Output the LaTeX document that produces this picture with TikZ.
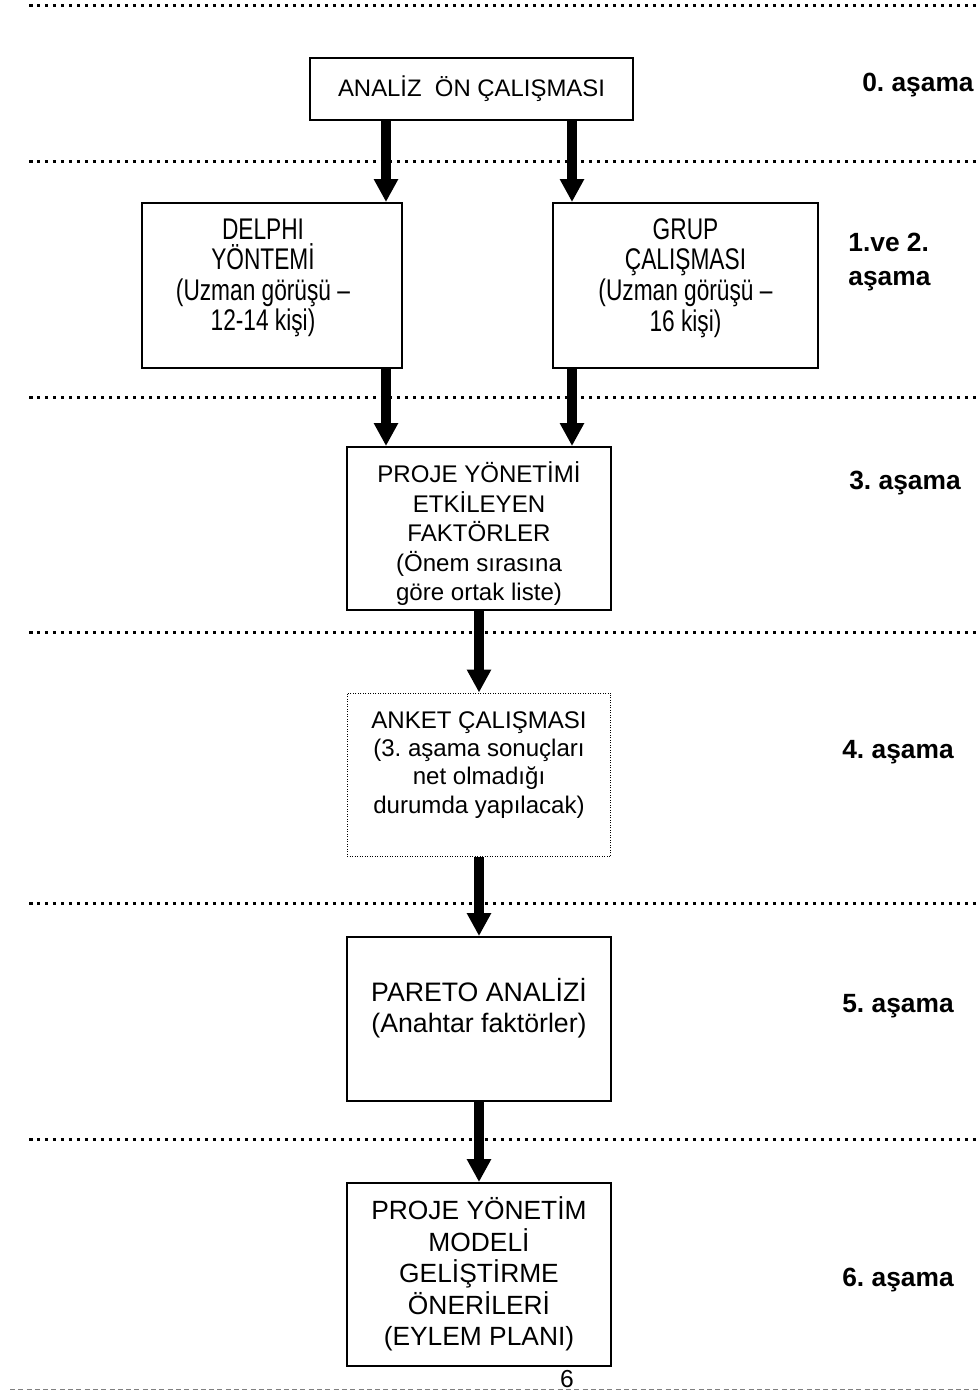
\documentclass[tikz,border=0pt]{standalone}
\usepackage{fontspec}
\setmainfont{Liberation Sans}
\newfontfamily\narrowsans{Liberation Sans}[FakeStretch=0.76]
\usetikzlibrary{arrows.meta}
\frenchspacing
\tikzset{
  stage box/.style={draw,line width=0.04cm,inner sep=0pt},
  stage text/.style={align=center,inner sep=0pt},
  phase label/.style={font=\bfseries\fontsize{15}{19.3}\selectfont,inner sep=0pt},
  flow arrow/.style={-{Triangle[length=0.46cm,width=0.46cm]},line width=0.2cm},
  sep line/.style={line width=0.06cm,dash pattern=on 0.07cm off 0.09cm},
}

\begin{document}
\begin{tikzpicture}[x=0.02cm,y=-0.02cm]
    \useasboundingbox (0,0) rectangle (979,1391);

    % stage separators
    \foreach \y in {6,162,398,632,903,1139}
        \draw[sep line] (29,\y) -- (979,\y);
    \draw[gray,line width=0.02cm,dash pattern=on 0.1cm off 0.066cm] (10,1389) -- (979,1389);

    % boxes
    \node[stage box,minimum width=6.46cm,minimum height=1.24cm,font=\fontsize{13.6}{16}\selectfont] (analiz) at (471.5,89) {ANALİZ\ \ ÖN ÇALIŞMASI};
    \node[stage box,minimum width=5.2cm,minimum height=3.3cm] (delphi) at (272,285.5) {};
    \node[stage box,minimum width=5.3cm,minimum height=3.3cm] (grup) at (685.5,285.5) {};
    \node[stage box,minimum width=5.28cm,minimum height=3.26cm] (proje) at (479,528.5) {};
    \node[stage box,minimum width=5.28cm,minimum height=3.28cm,line width=0.02cm,dash pattern=on 0.02cm off 0.03cm] (anket) at (479,775) {};
    \node[stage box,minimum width=5.28cm,minimum height=3.28cm] (pareto) at (479,1019) {};
    \node[stage box,minimum width=5.28cm,minimum height=3.66cm] (model) at (479,1274.5) {};

    % box texts
    \node[stage text,font=\narrowsans\fontsize{17}{17.4}\selectfont] (delphitext) at (263,278) {DELPHI\\YÖNTEMİ\\(Uzman görüşü –\\12-14 kişi)};
    \node[stage text,font=\narrowsans\fontsize{17}{17.4}\selectfont] (gruptext) at (685.5,278) {GRUP\\ÇALIŞMASI\\(Uzman görüşü –\\16 kişi)};
    \node[stage text,font=\fontsize{13.7}{16.8}\selectfont] (projetext) at (479,534) {PROJE YÖNETİMİ\\ETKİLEYEN\\FAKTÖRLER\\(Önem sırasına\\göre ortak liste)};
    \node[stage text,font=\fontsize{13.7}{16}\selectfont] (ankettext) at (479,765) {ANKET ÇALIŞMASI\\(3. aşama sonuçları\\net olmadığı\\durumda yapılacak)};
    \node[stage text,font=\fontsize{15.2}{17.6}\selectfont] (paretotext) at (479,1008) {PARETO ANALİZİ\\(Anahtar faktörler)};
    \node[stage text,font=\fontsize{15}{18}\selectfont] (modeltext) at (479,1274) {PROJE YÖNETİM\\MODELİ\\GELİŞTİRME\\ÖNERİLERİ\\(EYLEM PLANI)};

    % stage names on the right
    \node[phase label,anchor=east] (p0) at (974,85) {0. aşama};
    \node[phase label,align=left,anchor=west] (p12) at (848,262) {1.ve 2.\\aşama};
    \node[phase label] (p3) at (905,483) {3. aşama};
    \node[phase label] (p4) at (898,752) {4. aşama};
    \node[phase label] (p5) at (898,1006) {5. aşama};
    \node[phase label] (p6) at (898,1280) {6. aşama};

    \node[font=\fontsize{14}{16}\selectfont,anchor=base,inner sep=0pt] (pagenum) at (567,1387) {6};

    % arrows
    \coordinate (leftcol) at (386,0);
    \coordinate (rightcol) at (572,0);
    \draw[flow arrow] (analiz.south -| leftcol) -- (delphi.north -| leftcol);
    \draw[flow arrow] (analiz.south -| rightcol) -- (grup.north -| rightcol);
    \draw[flow arrow] (delphi.south -| leftcol) -- (proje.north -| leftcol);
    \draw[flow arrow] (grup.south -| rightcol) -- (proje.north -| rightcol);
    \draw[flow arrow] (proje) -- (anket);
    \draw[flow arrow] (anket) -- (pareto);
    \draw[flow arrow] (pareto) -- (model);
\end{tikzpicture}
\end{document}
